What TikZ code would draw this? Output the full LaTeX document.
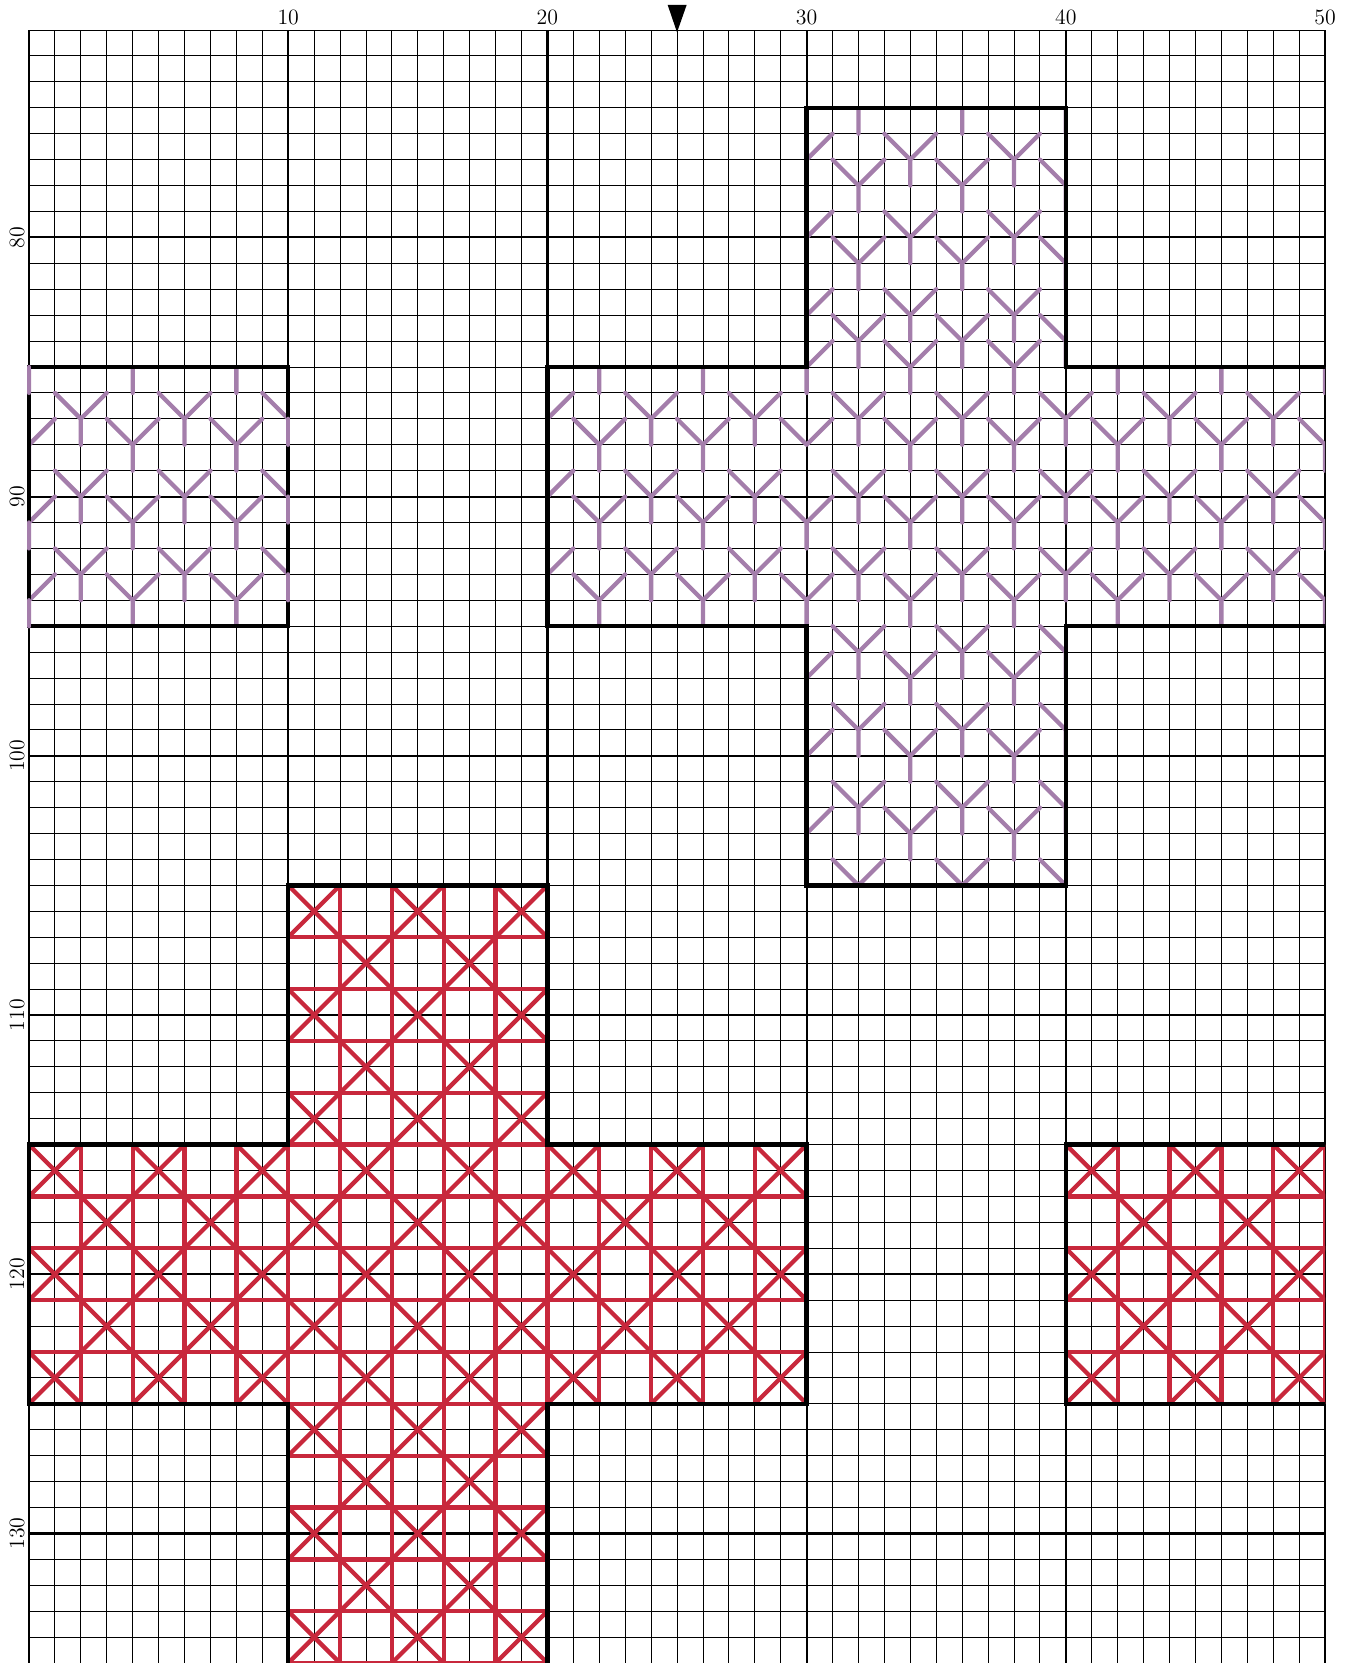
\documentclass[tikz,border=0pt]{standalone}
\usepackage{tikz}
\definecolor{stpurple}{RGB}{164,126,171}
\definecolor{stred}{RGB}{200,40,60}
\newcommand{\yarms}[2]{\draw[purst] (#1-1,#2-1) -- (#1,#2) -- (#1+1,#2-1);}
\newcommand{\ystitch}[2]{\draw[purst] (#1-1,#2-1) -- (#1,#2) -- (#1+1,#2-1) (#1,#2) -- (#1,#2+1);}
\begin{document}
\begin{tikzpicture}[x=0.5cm,y=-0.5cm,
  thingrid/.style={line width=0.5pt,black},
  majorgrid/.style={line width=1.2pt,black},
  outline/.style={line width=2.35pt,black,line join=miter,line cap=butt},
  redst/.style={line width=2.35pt,stred,line cap=round,line join=round},
  purst/.style={line width=2.35pt,stpurple,line cap=round,line join=round},
  lab/.style={font=\fontsize{12}{14}\selectfont,inner sep=0pt}]
\useasboundingbox (-1.119,70.843) rectangle (50.849,135.0);
% grid
\foreach \c in {0,...,50} {\draw[thingrid] (\c,72) -- (\c,135.3);}
\foreach \r in {72,...,135} {\draw[thingrid] (0,\r) -- (50,\r);}
\foreach \c in {0,10,...,50} {\draw[majorgrid] (\c,72) -- (\c,135.3);}
\foreach \r in {80,90,...,130} {\draw[majorgrid] (0,\r) -- (50,\r);}
% labels
\foreach \c in {10,20,30,40,50} {\node[lab,anchor=base] (col\c) at (\c,71.77) {\c};}
\foreach \r in {80,90,...,130} {\node[lab,anchor=base,rotate=90] (row\r) at (-0.19,\r) {\r};}
\fill[black] (24.64,71.035) -- (25.37,71.035) -- (25,72.09) -- cycle;
% red stitches
\begin{scope}
\clip (10,105) -- (20,105) -- (20,115) -- (30,115) -- (30,125) -- (20,125) -- (20,136) -- (10,136) -- (10,125) -- (0,125) -- (0,115) -- (10,115) -- cycle
      (40,115) rectangle (50,125);
\foreach \c in {0,2,...,50} {\draw[redst] (\c,105) -- (\c,136);}
\foreach \r in {105,107,...,135} {\draw[redst] (0,\r) -- (50,\r);}
\foreach \c in {0,2,...,48} {
  \foreach \r in {105,107,...,133} {
    \pgfmathtruncatemacro{\m}{mod(\c+\r,4)}
    \ifnum\m=3 \draw[redst] (\c,\r) -- ++(2,2) (\c+2,\r) -- ++(-2,2); \fi
  }
}
\end{scope}
% purple cross
\begin{scope}
\clip (30,75) -- (40,75) -- (40,85) -- (50,85) -- (50,95) -- (40,95) -- (40,105) -- (30,105) -- (30,95) -- (20,95) -- (20,85) -- (30,85) -- cycle;
\foreach \c in {30,34,38} {\foreach \r in {77,80,83} {\ystitch{\c}{\r}}}
\foreach \c in {32,36,40} {\foreach \r in {75,78,81,84} {\ystitch{\c}{\r}}}
\foreach \c in {20,24,...,48} {\foreach \r in {87,90,...,105} {\ystitch{\c}{\r}}}
\foreach \c in {22,26,...,50} {\foreach \r in {85,88,...,103} {%
  \ifnum\c=30 \ifnum\r=88 \yarms{\c}{\r}\else\ystitch{\c}{\r}\fi\else\ystitch{\c}{\r}\fi}}
\end{scope}
% purple left block
\begin{scope}
\clip (0,85) rectangle (10,95);
\foreach \c in {2,6,10} {\foreach \r in {87,90,93} {\ystitch{\c}{\r}}}
\foreach \c in {0,4,8} {\foreach \r in {85,88,91,94} {\ystitch{\c}{\r}}}
\end{scope}
% outlines
\draw[outline] (0,85) rectangle (10,95);
\draw[outline] (50,85) -- (40,85) -- (40,75) -- (30,75) -- (30,85) -- (20,85) -- (20,95) -- (30,95) -- (30,105) -- (40,105) -- (40,95) -- (50,95);
\draw[outline] (10,135.5) -- (10,125) -- (0,125) -- (0,115) -- (10,115) -- (10,105) -- (20,105) -- (20,115) -- (30,115) -- (30,125) -- (20,125) -- (20,135.5);
\draw[outline] (50,115) -- (40,115) -- (40,125) -- (50,125);
% stems over the left block edges
\foreach \r in {85,91,94} {\draw[purst] (0,\r) -- (0,\r+1);}
\foreach \r in {87,90,93} {\draw[purst] (10,\r) -- (10,\r+1);}
\end{tikzpicture}
\end{document}
